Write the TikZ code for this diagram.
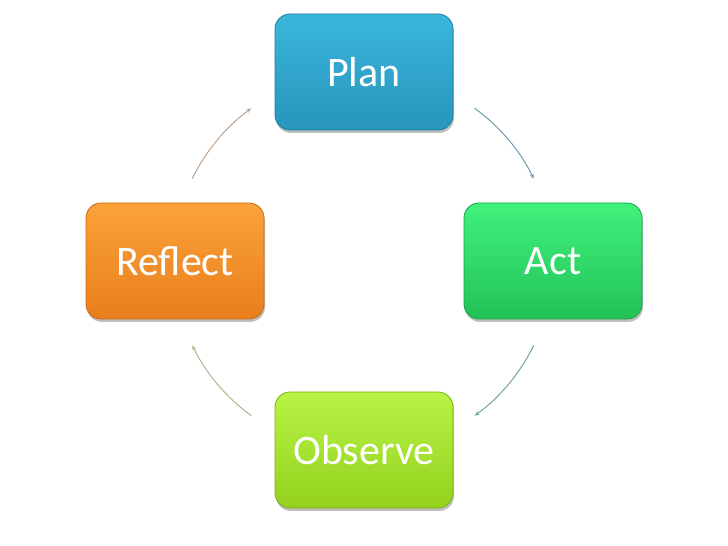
\documentclass[tikz,border=0pt]{standalone}
\usepackage{fontspec}
\setmainfont{Carlito}
\usetikzlibrary{shadows,arrows.meta,calc}
\definecolor{plantop}{HTML}{3AB6DC}
\definecolor{planbot}{HTML}{2895BB}
\definecolor{plandr}{HTML}{1E7E9E}
\definecolor{acttop}{HTML}{40F27C}
\definecolor{actbot}{HTML}{22C157}
\definecolor{actdr}{HTML}{1AA045}
\definecolor{reftop}{HTML}{FBA23A}
\definecolor{refbot}{HTML}{E97F1C}
\definecolor{refdr}{HTML}{C86A12}
\definecolor{obstop}{HTML}{B8F445}
\definecolor{obsbot}{HTML}{93D11E}
\definecolor{obsdr}{HTML}{7AB012}
\definecolor{arA}{HTML}{6E9CAA}
\definecolor{arB}{HTML}{6FA88E}
\definecolor{arC}{HTML}{AAB98E}
\definecolor{arD}{HTML}{BCA28E}
\tikzset{
  box/.style={rounded corners=15pt, minimum width=178pt, minimum height=116pt,
    text=white, font=\fontsize{42}{50}\selectfont, line width=0.8pt,
    drop shadow={shadow xshift=1pt, shadow yshift=-3pt, fill=black, opacity=0.25}},
  cyc/.style={line width=1pt, -{Stealth[length=5pt,width=4pt]}}
}
\begin{document}
\begin{tikzpicture}[x=1pt,y=1pt]
\useasboundingbox (0,0) rectangle (728,546);
\node[box, draw=plandr, top color=plantop, bottom color=planbot] (plan) at (364,474) {Plan};
\node[box, draw=actdr, top color=acttop, bottom color=actbot] (act) at (553,285) {Act};
\node[box, draw=refdr, top color=reftop, bottom color=refbot] (reflect) at (175,285) {Reflect};
\node[box, draw=obsdr, top color=obstop, bottom color=obsbot] (observe) at (364,96) {Observe};
\coordinate (ctr) at (363,284);
\coordinate (a1) at ($(ctr)+(54:190)$);
\coordinate (a2) at ($(ctr)+(-26:190)$);
\coordinate (a3) at ($(ctr)+(-126:190)$);
\coordinate (a4) at ($(ctr)+(154:190)$);
\draw[cyc, arA] (a1) arc[start angle=54, end angle=26, radius=190];
\draw[cyc, arB] (a2) arc[start angle=-26, end angle=-54, radius=190];
\draw[cyc, arC] (a3) arc[start angle=-126, end angle=-154, radius=190];
\draw[cyc, arD] (a4) arc[start angle=154, end angle=126, radius=190];
\end{tikzpicture}
\end{document}
